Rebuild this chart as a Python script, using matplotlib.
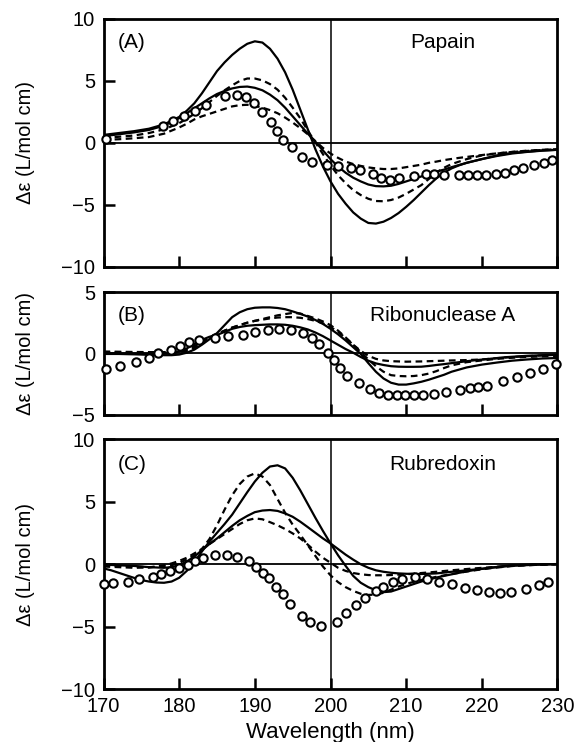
import matplotlib.pyplot as plt

plt.rcParams['font.family'] = ['Liberation Sans', 'DejaVu Sans']

# ---------------- Panel A: Papain ----------------
a_circ_x = [170.3, 177.8, 179.2, 180.7, 182.1, 183.6, 186.0, 187.6, 188.8, 189.9, 191.0, 192.1,
            192.9, 193.7, 194.9, 196.2, 197.5, 199.5, 201.0, 202.7, 203.9, 205.6, 206.7, 207.8,
            209.1, 211.0, 212.6, 213.7, 215.0, 217.0, 218.2, 219.4, 220.6, 221.9, 223.0, 224.3,
            225.5, 226.9, 228.2, 229.3]
a_circ_y = [0.3, 1.4, 1.74, 2.15, 2.6, 3.1, 3.76, 3.9, 3.68, 3.2, 2.5, 1.7,
            1.0, 0.27, -0.3, -1.1, -1.56, -1.75, -1.89, -2.02, -2.15, -2.48, -2.83, -2.96,
            -2.83, -2.64, -2.5, -2.5, -2.55, -2.58, -2.6, -2.6, -2.58, -2.52, -2.4, -2.2,
            -2.0, -1.76, -1.6, -1.4]

a_s1_x = [170, 172, 174, 176, 178, 179, 180, 181, 182, 183, 184, 185, 186, 187, 188, 189, 190,
          191, 192, 193, 194, 195, 196, 197, 198, 199, 200, 201, 202, 203, 204, 205, 206, 207,
          208, 209, 210, 211, 212, 213, 214, 215, 216, 217, 218, 220, 222, 224, 226, 228, 230]
a_s1_y = [0.65, 0.8, 0.95, 1.15, 1.5, 1.8, 2.1, 2.6, 3.2, 4.0, 4.9, 5.8, 6.5, 7.1, 7.6, 8.0, 8.2,
          8.1, 7.6, 6.8, 5.7, 4.3, 2.7, 1.1, -0.5, -1.9, -3.1, -4.1, -4.9, -5.6, -6.1, -6.45, -6.5,
          -6.35, -6.05, -5.65, -5.15, -4.6, -4.0, -3.4, -2.85, -2.4, -2.05, -1.8, -1.6, -1.3, -1.0,
          -0.8, -0.7, -0.6, -0.55]

a_s2_x = [170, 172, 174, 176, 178, 180, 181, 182, 183, 184, 185, 186, 187, 188, 189, 190, 191,
          192, 193, 194, 195, 196, 197, 198, 199, 200, 201, 202, 203, 204, 205, 206, 207, 208,
          209, 210, 211, 212, 213, 214, 215, 216, 218, 220, 222, 224, 226, 228, 230]
a_s2_y = [0.55, 0.7, 0.85, 1.05, 1.4, 2.0, 2.4, 2.8, 3.2, 3.6, 3.95, 4.2, 4.4, 4.52, 4.55, 4.45,
          4.25, 3.9, 3.45, 2.85, 2.15, 1.45, 0.75, 0.1, -0.6, -1.3, -1.9, -2.4, -2.8, -3.1, -3.35,
          -3.48, -3.5, -3.45, -3.3, -3.1, -2.9, -2.7, -2.5, -2.3, -2.15, -1.95, -1.6, -1.3, -1.05,
          -0.85, -0.72, -0.62, -0.55]

a_d1_x = [170, 172, 174, 176, 178, 180, 181, 182, 183, 184, 185, 186, 187, 188, 189, 190, 191,
          192, 193, 194, 195, 196, 197, 198, 199, 200, 201, 202, 203, 204, 205, 206, 207, 208,
          209, 210, 211, 212, 213, 214, 215, 216, 218, 220, 222, 224, 226, 228, 230]
a_d1_y = [0.4, 0.5, 0.6, 0.8, 1.1, 1.6, 1.95, 2.35, 2.8, 3.3, 3.8, 4.25, 4.65, 5.0, 5.2, 5.2,
          5.05, 4.75, 4.3, 3.65, 2.85, 2.0, 1.0, 0.05, -0.9, -1.8, -2.6, -3.25, -3.8, -4.2, -4.5,
          -4.68, -4.7, -4.6, -4.4, -4.1, -3.75, -3.4, -2.9, -2.4, -2.0, -1.7, -1.3, -1.0, -0.85,
          -0.72, -0.62, -0.55, -0.5]

a_d2_x = [170, 172, 174, 176, 178, 180, 181, 182, 183, 184, 185, 186, 187, 188, 189, 190, 191,
          192, 193, 194, 195, 196, 197, 198, 199, 200, 201, 202, 203, 204, 205, 206, 207, 208,
          209, 210, 211, 212, 213, 214, 215, 217, 219, 221, 223, 225, 227, 230]
a_d2_y = [0.25, 0.3, 0.38, 0.48, 0.75, 1.25, 1.55, 1.9, 2.15, 2.35, 2.55, 2.75, 2.95, 3.05, 3.08,
          3.0, 2.85, 2.65, 2.4, 2.05, 1.65, 1.2, 0.7, 0.15, -0.4, -0.85, -1.2, -1.5, -1.7, -1.85,
          -1.97, -2.05, -2.1, -2.1, -2.05, -1.95, -1.85, -1.75, -1.6, -1.5, -1.38, -1.2, -1.05,
          -0.9, -0.78, -0.68, -0.6, -0.5]

# ---------------- Panel B: Ribonuclease A ----------------
b_circ_x = [170.3, 172.2, 174.3, 176.0, 177.2, 178.9, 180.1, 181.3, 182.6, 184.7, 186.5, 188.5,
            190.0, 191.7, 193.2, 194.8, 196.3, 197.5, 198.5, 199.7, 200.4, 201.2, 202.2, 203.8,
            205.2, 206.4, 207.6, 208.8, 209.9, 211.0, 212.2, 213.7, 215.3, 217.1, 218.4, 219.5,
            220.7, 222.8, 224.7, 226.4, 228.1, 229.8]
b_circ_y = [-1.28, -1.03, -0.68, -0.36, 0.0, 0.27, 0.6, 0.9, 1.08, 1.27, 1.38, 1.52, 1.78, 1.93,
            1.96, 1.9, 1.66, 1.22, 0.73, 0.05, -0.55, -1.22, -1.85, -2.44, -2.93, -3.26, -3.4,
            -3.4, -3.4, -3.4, -3.4, -3.32, -3.13, -2.99, -2.85, -2.72, -2.64, -2.23, -1.9, -1.58,
            -1.25, -0.84]

b_s1_x = [170, 172, 174, 176, 178, 179, 180, 181, 182, 183, 184, 185, 186, 187, 188, 189, 190,
          191, 192, 193, 194, 195, 196, 197, 198, 199, 200, 201, 202, 203, 204, 205, 206, 207,
          208, 209, 210, 211, 212, 213, 214, 215, 216, 218, 220, 222, 224, 226, 228, 230]
b_s1_y = [-0.05, -0.05, -0.08, -0.12, -0.15, -0.15, -0.1, 0.05, 0.3, 0.7, 1.15, 1.65, 2.3, 2.95,
          3.35, 3.6, 3.72, 3.75, 3.75, 3.7, 3.6, 3.42, 3.22, 3.0, 2.72, 2.4, 2.0, 1.55, 1.05, 0.5,
          -0.05, -0.8, -1.5, -2.05, -2.4, -2.55, -2.55, -2.45, -2.32, -2.15, -1.95, -1.75, -1.5,
          -1.15, -0.92, -0.75, -0.6, -0.5, -0.42, -0.38]

b_s2_x = [170, 174, 177, 179, 180, 181, 182, 183, 184, 185, 186, 187, 188, 189, 190, 191, 192,
          193, 194, 195, 196, 197, 198, 199, 200, 201, 202, 203, 204, 205, 206, 207, 208, 209,
          210, 211, 212, 213, 214, 215, 217, 219, 221, 223, 226, 230]
b_s2_y = [0.0, -0.02, -0.05, 0.0, 0.15, 0.4, 0.75, 1.1, 1.35, 1.5, 1.75, 2.0, 2.15, 2.25, 2.3,
          2.33, 2.36, 2.36, 2.33, 2.25, 2.12, 1.95, 1.7, 1.4, 1.05, 0.7, 0.35, 0.05, -0.3, -0.6,
          -0.82, -0.95, -1.05, -1.09, -1.1, -1.1, -1.09, -1.03, -0.95, -0.88, -0.72, -0.57,
          -0.45, -0.32, -0.2, -0.1]

b_d1_x = [170, 173, 176, 178, 180, 181, 182, 183, 184, 185, 186, 187, 188, 189, 190, 191, 192,
          193, 194, 195, 196, 197, 198, 199, 200, 201, 202, 203, 204, 205, 206, 207, 208, 210,
          212, 214, 216, 218, 220, 222, 224, 227, 230]
b_d1_y = [0.15, 0.12, 0.1, 0.1, 0.15, 0.3, 0.6, 0.95, 1.3, 1.6, 1.85, 2.1, 2.3, 2.5, 2.65, 2.8,
          2.95, 3.1, 3.2, 3.3, 3.25, 3.05, 2.85, 2.6, 2.3, 1.85, 1.3, 0.7, 0.2, -0.2, -0.45,
          -0.58, -0.64, -0.68, -0.66, -0.62, -0.58, -0.55, -0.5, -0.4, -0.3, -0.2, -0.12]

b_d2_x = [170, 173, 176, 178, 180, 181, 182, 183, 184, 185, 186, 187, 188, 189, 190, 191, 192,
          193, 194, 195, 196, 197, 198, 199, 200, 201, 202, 203, 204, 205, 206, 207, 208, 209,
          210, 211, 212, 213, 214, 215, 216, 218, 220, 222, 225, 230]
b_d2_y = [0.1, 0.08, 0.05, 0.05, 0.1, 0.2, 0.45, 0.85, 1.2, 1.55, 1.85, 2.1, 2.3, 2.5, 2.65,
          2.75, 2.85, 2.92, 2.95, 2.95, 2.9, 2.8, 2.65, 2.45, 2.15, 1.75, 1.25, 0.7, 0.1, -0.5,
          -1.05, -1.5, -1.78, -1.85, -1.87, -1.85, -1.78, -1.65, -1.45, -1.2, -0.98, -0.72,
          -0.58, -0.45, -0.32, -0.2]

# ---------------- Panel C: Rubredoxin ----------------
c_circ_x = [170.1, 171.3, 173.2, 174.7, 176.5, 177.6, 178.8, 180.0, 181.1, 182.1, 183.1, 184.7,
            186.3, 187.7, 189.2, 190.1, 191.1, 191.9, 192.8, 193.7, 194.6, 196.2, 197.3, 198.8,
            200.8, 202.1, 203.4, 204.6, 206.0, 207.0, 208.2, 209.5, 211.2, 212.7, 214.3, 216.1,
            217.8, 219.4, 220.9, 222.4, 223.9, 225.8, 227.6, 228.7]
c_circ_y = [-1.6, -1.5, -1.41, -1.23, -1.01, -0.8, -0.56, -0.29, -0.05, 0.21, 0.45, 0.72, 0.72,
            0.59, 0.24, -0.27, -0.69, -1.15, -1.81, -2.4, -3.2, -4.16, -4.64, -4.96, -4.61,
            -3.89, -3.28, -2.75, -2.13, -1.81, -1.47, -1.2, -1.07, -1.2, -1.41, -1.63, -1.89,
            -2.08, -2.21, -2.29, -2.27, -2.03, -1.68, -1.47]

c_s1_x = [170, 171, 172, 173, 174, 175, 176, 177, 178, 179, 180, 181, 182, 183, 184, 185, 186,
          187, 188, 189, 190, 191, 192, 193, 194, 195, 196, 197, 198, 199, 200, 201, 202, 203,
          204, 205, 206, 207, 208, 209, 210, 211, 212, 213, 214, 215, 217, 219, 221, 223.6, 226,
          230]
c_s1_y = [-0.35, -0.5, -0.7, -0.9, -1.1, -1.28, -1.4, -1.48, -1.5, -1.4, -1.1, -0.55, 0.15, 1.0,
          1.8, 2.5, 3.2, 3.95, 4.85, 5.75, 6.6, 7.3, 7.8, 7.9, 7.65, 6.9, 5.9, 4.8, 3.7, 2.65,
          1.65, 0.7, -0.15, -0.95, -1.5, -1.85, -2.1, -2.25, -2.2, -2.0, -1.8, -1.6, -1.4, -1.25,
          -1.08, -0.95, -0.7, -0.48, -0.3, -0.12, -0.05, 0.0]

c_s2_x = [170, 172, 174, 176, 178, 179, 180, 181, 182, 183, 184, 185, 186, 187, 188, 189, 190,
          191, 192, 193, 194, 195, 196, 197, 198, 199, 200, 201, 202, 203, 204, 205, 206, 207,
          208, 209, 210, 212, 214, 216, 218, 220, 222, 224, 227, 230]
c_s2_y = [-0.05, -0.1, -0.15, -0.25, -0.3, -0.25, -0.1, 0.2, 0.6, 1.1, 1.6, 2.05, 2.55, 3.05,
          3.5, 3.85, 4.15, 4.28, 4.32, 4.25, 4.05, 3.78, 3.39, 2.95, 2.5, 2.05, 1.65, 1.2, 0.75,
          0.35, -0.02, -0.3, -0.5, -0.62, -0.7, -0.75, -0.78, -0.8, -0.75, -0.62, -0.5, -0.38,
          -0.25, -0.14, -0.06, -0.02]

c_d1_x = [170, 172, 174, 176, 178, 179, 180, 181, 182, 183, 184, 185, 186, 187, 188, 189, 190,
          191, 192, 193, 194, 195, 196, 197, 198, 199, 200, 201, 202, 203, 204, 205, 206, 207,
          208, 209, 210, 211, 212, 213, 214, 216, 218, 220, 222, 224, 227, 230]
c_d1_y = [-0.1, -0.15, -0.2, -0.25, -0.2, -0.1, 0.1, 0.35, 0.7, 1.2, 2.0, 3.1, 4.35, 5.5, 6.4,
          7.0, 7.25, 7.0, 6.32, 5.2, 4.1, 3.15, 2.35, 1.5, 0.65, -0.2, -0.9, -1.45, -1.85, -2.15,
          -2.38, -2.47, -2.45, -2.3, -2.05, -1.8, -1.6, -1.42, -1.28, -1.15, -1.02, -0.8, -0.6,
          -0.42, -0.28, -0.16, -0.07, -0.02]

c_d2_x = [170, 172, 174, 176, 178, 179, 180, 181, 182, 183, 184, 185, 186, 187, 188, 189, 190,
          191, 192, 193, 194, 195, 196, 197, 198, 199, 200, 201, 202, 203, 204, 205, 206, 207,
          208, 210, 212, 214, 216, 219, 222, 225, 230]
c_d2_y = [-0.2, -0.25, -0.3, -0.28, -0.1, 0.05, 0.25, 0.5, 0.85, 1.2, 1.6, 2.0, 2.4, 2.8, 3.2,
          3.5, 3.65, 3.58, 3.35, 3.1, 2.8, 2.45, 2.05, 1.55, 1.0, 0.5, 0.1, -0.3, -0.55, -0.72,
          -0.82, -0.88, -0.9, -0.9, -0.88, -0.82, -0.72, -0.62, -0.5, -0.35, -0.22, -0.1, -0.02]

x_ticks = [170, 180, 190, 200, 210, 220, 230]
ylabel = 'Δε (L/mol cm)'

fig = plt.figure(figsize=(5.77, 7.42), dpi=100)
axA = fig.add_axes([0.1794, 0.6402, 0.7868, 0.3342])
axB = fig.add_axes([0.1794, 0.4412, 0.7868, 0.1652])
axC = fig.add_axes([0.1794, 0.0714, 0.7868, 0.3369])

panels = [
    (axA, '(A)', 'Papain', (-10, 10), [-10, -5, 0, 5, 10], 0.905,
     a_circ_x, a_circ_y, [(a_s1_x, a_s1_y), (a_s2_x, a_s2_y)], [(a_d1_x, a_d1_y), (a_d2_x, a_d2_y)]),
    (axB, '(B)', 'Ribonuclease A', (-5, 5), [-5, 0, 5], 0.81,
     b_circ_x, b_circ_y, [(b_s1_x, b_s1_y), (b_s2_x, b_s2_y)], [(b_d1_x, b_d1_y), (b_d2_x, b_d2_y)]),
    (axC, '(C)', 'Rubredoxin', (-10, 10), [-10, -5, 0, 5, 10], 0.90,
     c_circ_x, c_circ_y, [(c_s1_x, c_s1_y), (c_s2_x, c_s2_y)], [(c_d1_x, c_d1_y), (c_d2_x, c_d2_y)]),
]

for ax, tag, name, ylim, yticks, ty, cx, cy, solids, dashes in panels:
    # reference lines at zero and 200 nm
    ax.axhline(0, color='black', lw=1.3, zorder=1)
    ax.axvline(200, color='black', lw=1.1, zorder=1)

    for xs, ys in solids:
        ax.plot(xs, ys, color='black', lw=1.6, zorder=2)
    for xs, ys in dashes:
        ax.plot(xs, ys, color='black', lw=1.6, linestyle=(0, (3, 2)), zorder=2)
    ax.plot(cx, cy, 'o', mfc='white', mec='black', ms=6, mew=1.5, zorder=3, clip_on=False)

    ax.text(0.032, ty, tag, transform=ax.transAxes, ha='left', va='center', fontsize=15)
    ax.text(0.747, ty, name, transform=ax.transAxes, ha='center', va='center', fontsize=15)

    ax.set_xlim(170, 230)
    ax.set_ylim(*ylim)
    ax.set_xticks(x_ticks)
    ax.set_yticks(yticks)
    ax.tick_params(direction='in', length=8, width=1.8, labelsize=14.5, pad=6)
    for sp in ax.spines.values():
        sp.set_linewidth(2.0)
    ax.set_ylabel(ylabel, fontsize=14.5)
    ax.yaxis.set_label_coords(-0.151, 0.5)

axA.tick_params(labelbottom=False)
axB.tick_params(labelbottom=False)

axC.set_xlabel('Wavelength (nm)', fontsize=16)
axC.xaxis.set_label_coords(0.5, -0.196)
axC.xaxis.label.set_va('baseline')

fig.savefig('out.png', dpi=100)
